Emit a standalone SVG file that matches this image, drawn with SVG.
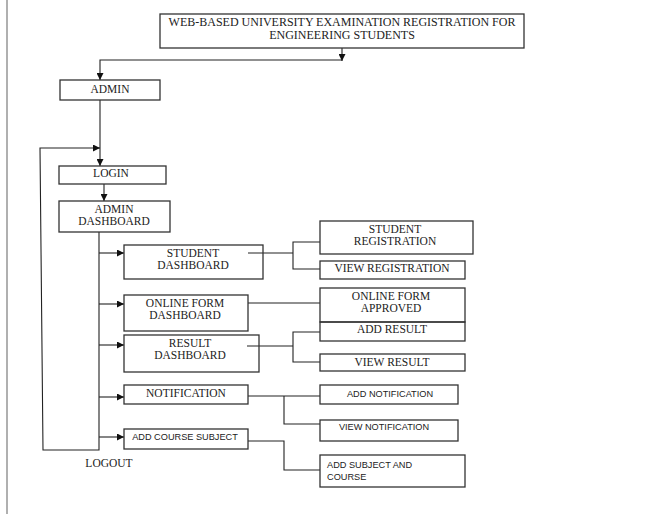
<svg xmlns="http://www.w3.org/2000/svg" width="649" height="514" viewBox="0 0 649 514">
<style>
.box{fill:none;stroke:#333;stroke-width:1.3}
.t{font-family:"Liberation Serif","Times New Roman",serif;font-size:11.5px;fill:#222;text-anchor:middle;dominant-baseline:central}
.s{font-family:"Liberation Sans",Arial,sans-serif;font-size:9.2px;fill:#222;text-anchor:middle;dominant-baseline:central}
.c{fill:none;stroke:#222;stroke-width:1.1}
</style>
<defs>
<marker id="ah" viewBox="0 0 8 8" refX="8" refY="4" markerWidth="7" markerHeight="7" markerUnits="userSpaceOnUse" orient="auto">
<path d="M0,0 L8,4 L0,8 z" fill="#111"/>
</marker>
</defs>
<rect x="0" y="0" width="649" height="514" fill="#fff"/>
<line x1="7" y1="0" x2="7" y2="514" stroke="#b0b0b0" stroke-width="2"/>

<g id="connectors">
<path class="c" d="M342,48 V61" marker-end="url(#ah)"/>
<path class="c" d="M342,60 H100 V80" marker-end="url(#ah)"/>
<path class="c" d="M100,100 V166" marker-end="url(#ah)"/>
<path class="c" d="M104,184 V201" marker-end="url(#ah)"/>
<path class="c" d="M99,232 V450 H43 L40,148 H100" marker-end="url(#ah)"/>
<path class="c" d="M99,253 H124" marker-end="url(#ah)"/>
<path class="c" d="M99,304 H124" marker-end="url(#ah)"/>
<path class="c" d="M99,345 H124" marker-end="url(#ah)"/>
<path class="c" d="M99,397 H124" marker-end="url(#ah)"/>
<path class="c" d="M99,437 H124" marker-end="url(#ah)"/>
<path class="c" d="M248,253 H293 M320,242 H293 V269 H320"/>
<path class="c" d="M248,303 H320"/>
<path class="c" d="M247,346 H293 M320,332 H293 V362 H320"/>
<path class="c" d="M248,396 H320 M284,396 V424 H320"/>
<path class="c" d="M248,441 H284 V470 H320"/>
</g>

<g id="title"><rect class="box" x="160" y="14" width="364" height="34"/>
<text class="t" x="342" y="21.5" style="font-size:12px">WEB-BASED UNIVERSITY EXAMINATION REGISTRATION FOR</text>
<text class="t" x="342" y="35" style="font-size:12px">ENGINEERING STUDENTS</text></g>

<g id="admin"><rect class="box" x="60" y="80" width="100" height="20"/>
<text class="t" x="110" y="89">ADMIN</text></g>

<g id="login"><rect class="box" x="59" y="166" width="107" height="18"/>
<text class="t" x="111" y="173">LOGIN</text></g>

<g id="admin-dashboard"><rect class="box" x="59" y="201" width="111" height="31"/>
<text class="t" x="114" y="209">ADMIN</text>
<text class="t" x="114" y="221">DASHBOARD</text></g>

<g id="student-dashboard"><rect class="box" x="124" y="245" width="139" height="34"/>
<text class="t" x="193" y="253">STUDENT</text>
<text class="t" x="193" y="265">DASHBOARD</text></g>

<g id="online-form-dashboard"><rect class="box" x="124" y="295" width="124" height="36"/>
<text class="t" x="185" y="303">ONLINE FORM</text>
<text class="t" x="185" y="315">DASHBOARD</text></g>

<g id="result-dashboard"><rect class="box" x="124" y="335" width="135" height="37"/>
<text class="t" x="190" y="343">RESULT</text>
<text class="t" x="190" y="355">DASHBOARD</text></g>

<g id="notification"><rect class="box" x="124" y="385" width="124" height="19"/>
<text class="t" x="186" y="393">NOTIFICATION</text></g>

<g id="add-course-subject"><rect class="box" x="124" y="429" width="124" height="20"/>
<text class="s" x="185" y="437">ADD COURSE SUBJECT</text></g>

<g id="logout"><text class="t" x="109" y="463">LOGOUT</text></g>

<g id="student-registration"><rect class="box" x="320" y="221" width="153" height="33"/>
<text class="t" x="395" y="229">STUDENT</text>
<text class="t" x="395" y="241">REGISTRATION</text></g>

<g id="view-registration"><rect class="box" x="320" y="261" width="145" height="18"/>
<text class="t" x="392" y="268">VIEW REGISTRATION</text></g>

<g id="online-form-approved"><rect class="box" x="320" y="288" width="145" height="34"/>
<text class="t" x="391" y="296">ONLINE FORM</text>
<text class="t" x="391" y="308">APPROVED</text></g>

<g id="add-result"><rect class="box" x="320" y="322" width="145" height="19"/>
<text class="t" x="392" y="329">ADD RESULT</text></g>

<g id="view-result"><rect class="box" x="320" y="354" width="145" height="17"/>
<text class="t" x="392" y="362">VIEW RESULT</text></g>

<g id="add-notification"><rect class="box" x="320" y="385" width="138" height="19"/>
<text class="s" x="390" y="394">ADD NOTIFICATION</text></g>

<g id="view-notification"><rect class="box" x="320" y="420" width="138" height="21"/>
<text class="s" x="384" y="427">VIEW NOTIFICATION</text></g>

<g id="add-subject-and-course"><rect class="box" x="320" y="455" width="145" height="32"/>
<text class="s" x="327" y="465" style="text-anchor:start">ADD SUBJECT AND</text>
<text class="s" x="327" y="477" style="text-anchor:start">COURSE</text></g>
</svg>
